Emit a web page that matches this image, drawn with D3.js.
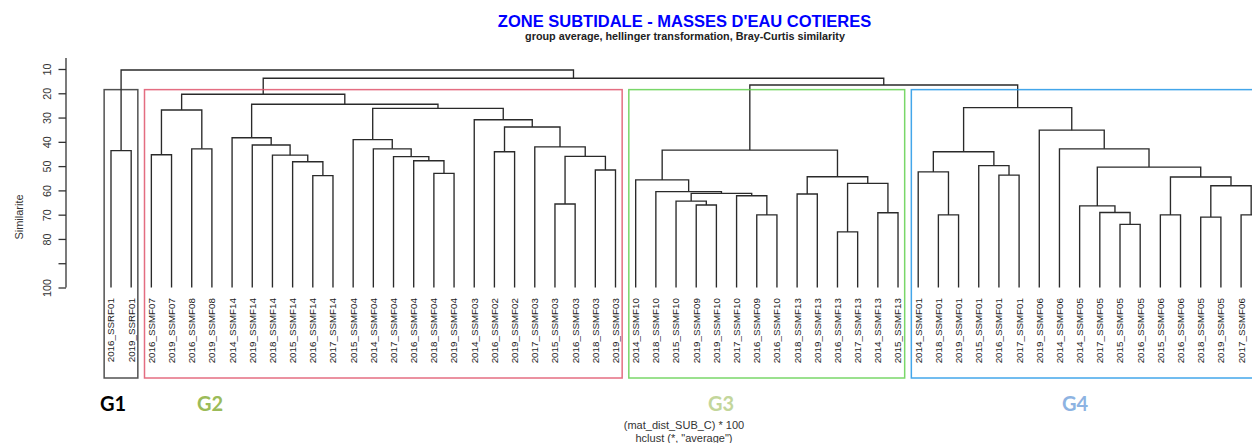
<!DOCTYPE html>
<html><head><meta charset="utf-8">
<script src="https://cdn.jsdelivr.net/npm/d3@7"></script>
<style>html,body{margin:0;padding:0;background:#fff;overflow:hidden}</style>
</head><body>
<svg id="chart" width="1252" height="443"></svg>
<script>
// ---------- data ----------
const leafLabels = [
  "2016_SSRF01","2019_SSRF01",
  "2016_SSMF07","2019_SSMF07","2016_SSMF08","2019_SSMF08",
  "2014_SSMF14","2019_SSMF14","2018_SSMF14","2015_SSMF14","2016_SSMF14","2017_SSMF14",
  "2015_SSMF04","2014_SSMF04","2017_SSMF04","2016_SSMF04","2018_SSMF04","2019_SSMF04",
  "2014_SSMF03","2016_SSMF02","2019_SSMF02","2017_SSMF03","2015_SSMF03","2016_SSMF03","2018_SSMF03","2019_SSMF03",
  "2014_SSMF10","2018_SSMF10","2015_SSMF10","2019_SSMF09","2019_SSMF10","2017_SSMF10","2016_SSMF09","2016_SSMF10",
  "2018_SSMF13","2019_SSMF13","2016_SSMF13","2017_SSMF13","2014_SSMF13","2015_SSMF13",
  "2014_SSMF01","2018_SSMF01","2019_SSMF01","2015_SSMF01","2016_SSMF01","2017_SSMF01",
  "2019_SSMF06","2014_SSMF06","2014_SSMF05","2017_SSMF05","2015_SSMF05","2016_SSMF05",
  "2015_SSMF06","2016_SSMF06","2018_SSMF05","2019_SSMF05","2017_SSMF06","2018_SSMF06"
];
// R hclust-style merge table: negative = leaf (1-based), positive = earlier merge step (1-based)
const merges = [
  [-1,-2],                                   // 1
  [-3,-4],[-5,-6],[2,3],                     // 2-4
  [-11,-12],[-10,5],[-9,6],[-8,7],[-7,8],    // 5-9
  [-17,-18],[-16,10],[-15,11],[-14,12],[-13,13], // 10-14
  [-20,-21],[-23,-24],[-25,-26],[16,17],[-22,18],[15,19],[-19,20], // 15-21
  [14,21],[9,22],[4,23],                     // 22-24
  [-30,-31],[-29,25],[-33,-34],[-32,27],[26,28],[-28,29],[-27,30], // 25-31
  [-35,-36],[-37,-38],[-39,-40],[33,34],[32,35],[31,36], // 32-37
  [-42,-43],[-41,38],[-45,-46],[-44,40],[39,41], // 38-42
  [-51,-52],[-50,43],[-49,44],[-53,-54],[-55,-56],[-57,-58],[47,48],[46,49],[45,50],[-48,51],[-47,52],[42,53], // 43-54
  [37,54],[24,55],[1,56]                     // 55-57
];
// similarity level of each merge (%)
const heights = [
  43.6,
  45.3,42.9,26.9,
  53.9,48.2,45.5,41.3,38.3,
  53.0,47.8,46.1,42.9,39.1,
  44.1,65.6,51.6,46.0,42.1,33.9,30.9,
  26.2,24.5,20.4,
  66.0,64.4,70.1,62.2,61.2,60.5,55.7,
  61.5,77.1,69.2,57.1,54.4,43.4,
  70.1,52.4,53.7,49.8,44.1,
  74.0,69.1,66.4,70.1,71.0,70.1,58.1,54.5,50.4,42.9,35.2,25.9,
  16.6,13.8,10.4
];
const groupNames = ["G1","G2","G3","G4"];
const groupColors = ["#000000","#9BBB59","#C3D69B","#8DB3E2"];
const boxColors = ["#333333","#DF536B","#61D04F","#2297E6"];
const yTickValues = [10,20,30,40,50,60,70,80,90,100];
const yTickLabels = ["10","20","30","40","50","60","70","80","","100"];
const titleText = "ZONE SUBTIDALE - MASSES D'EAU COTIERES";
const subtitleText = "group average, hellinger transformation, Bray-Curtis similarity";
const yLabel = "Similarite";
const xLabel1 = "(mat_dist_SUB_C) * 100";
const xLabel2 = "hclust (*, \"average\")";

// ---------- build tree ----------
const steps = [];
function resolve(r){ return r < 0 ? {name: leafLabels[-r-1], h: 100} : steps[r-1]; }
merges.forEach((m,i) => { steps.push({children:[resolve(m[0]), resolve(m[1])], h: heights[i]}); });
const root = d3.hierarchy(steps[steps.length-1]);

// ---------- layout ----------
const W = 1252, H = 443;
const plotBottom = 378;
const x = d3.scalePoint().domain(leafLabels).range([111, 111 + 20.18*(leafLabels.length-1)]);
const step = x.step();
const y = d3.scaleLinear().domain([10,100]).range([69, 287.5]);

root.eachAfter(n => {
  if (!n.children) n.x = x(n.data.name);
  else n.x = d3.mean(n.children, c => c.x);
});

const svg = d3.select("#chart");
const font = "'Liberation Sans', Arial, sans-serif";

// title
svg.append("text").attr("x", 684.5).attr("y", 27).attr("text-anchor","middle")
  .attr("font-family", font).attr("font-weight","bold").attr("font-size", 16.5)
  .attr("fill","#0000FF").text(titleText);
svg.append("text").attr("x", 685).attr("y", 40).attr("text-anchor","middle")
  .attr("font-family", font).attr("font-weight","bold").attr("font-size", 10.8)
  .attr("fill","#222").text(subtitleText);

// dendrogram links
const g = svg.append("g").attr("fill","none").attr("stroke","#2a2a2a").attr("stroke-width",1.35);
root.each(n => {
  if (!n.children) return;
  const [a,b] = n.children;
  g.append("path").attr("d",
    `M${a.x},${y(a.data.h)}V${y(n.data.h)}H${b.x}V${y(b.data.h)}`);
});

// leaf labels (only those inside the picture; the reference is cropped at the right edge)
svg.append("g").selectAll("text").data(root.leaves().filter(d => d.x < W - 5)).join("text")
  .attr("transform", d => `translate(${d.x},${y(100)+10.5}) rotate(-90)`)
  .attr("dy","0.35em").attr("text-anchor","end")
  .attr("font-family", font).attr("font-size", 9.8).attr("fill","#1a1a1a")
  .text(d => d.data.name);

// y axis
const axisTop = 5.5;
const ax = svg.append("g").attr("transform","translate(66,0)")
  .call(d3.axisLeft(y).tickValues(yTickValues).tickSize(7.5).tickSizeOuter(0)
        .tickFormat((d,i) => yTickLabels[i]));
ax.select(".domain").remove();
ax.append("line").attr("x1",0).attr("x2",0).attr("y1", y(axisTop)).attr("y2", y(100))
  .attr("stroke","#333").attr("stroke-width",1.3);
ax.selectAll(".tick line").attr("stroke","#333").attr("stroke-width",1.3);
ax.selectAll(".tick text")
  .attr("font-family", font).attr("font-size", 10.8).attr("fill","#333")
  .attr("transform","rotate(-90)").attr("x",0).attr("y",-19).attr("dy","0.35em")
  .attr("text-anchor","middle");
svg.append("text").attr("transform",`translate(19.5,217) rotate(-90)`)
  .attr("text-anchor","middle").attr("dy","0.35em")
  .attr("font-family", font).attr("font-size", 11).attr("fill","#333").text(yLabel);

// cut into 4 groups (rect.hclust style)
const k = groupNames.length;
const sortedH = heights.slice().sort((p,q) => p-q);
const cut = (sortedH[k-2] + sortedH[k-1]) / 2;
const groups = [];
root.each(n => {
  if (n.data.h > cut && (!n.parent || n.parent.data.h < cut)) groups.push(n);
});
groups.sort((p,q) => d3.min(p.leaves(), l=>l.x) - d3.min(q.leaves(), l=>l.x));
groups.forEach((gn,i) => {
  const lv = gn.leaves();
  const x0 = d3.min(lv, l=>l.x) - 0.34*step, x1 = d3.max(lv, l=>l.x) + 0.33*step;
  svg.append("rect").attr("x", x0).attr("y", y(cut)).attr("width", x1-x0).attr("height", plotBottom - y(cut))
    .attr("fill","none").attr("stroke", boxColors[i]).attr("stroke-width",1.5).attr("stroke-opacity",0.85);
});

// group labels
const groupLabelX = [113, 210, 721, 1075];
groupNames.forEach((nm,i) => {
  svg.append("text").attr("x", groupLabelX[i]).attr("y", 411).attr("text-anchor","middle")
    .attr("font-family","Lato, 'Open Sans', sans-serif").attr("font-weight","bold").attr("font-size",20)
    .attr("fill", groupColors[i]).text(nm);
});

// bottom labels
svg.append("text").attr("x", 684).attr("y", 429).attr("text-anchor","middle")
  .attr("font-family", font).attr("font-size", 11).attr("fill","#333").text(xLabel1);
svg.append("text").attr("x", 684).attr("y", 441.5).attr("text-anchor","middle")
  .attr("font-family", font).attr("font-size", 11).attr("fill","#333").text(xLabel2);
</script>
</body></html>
